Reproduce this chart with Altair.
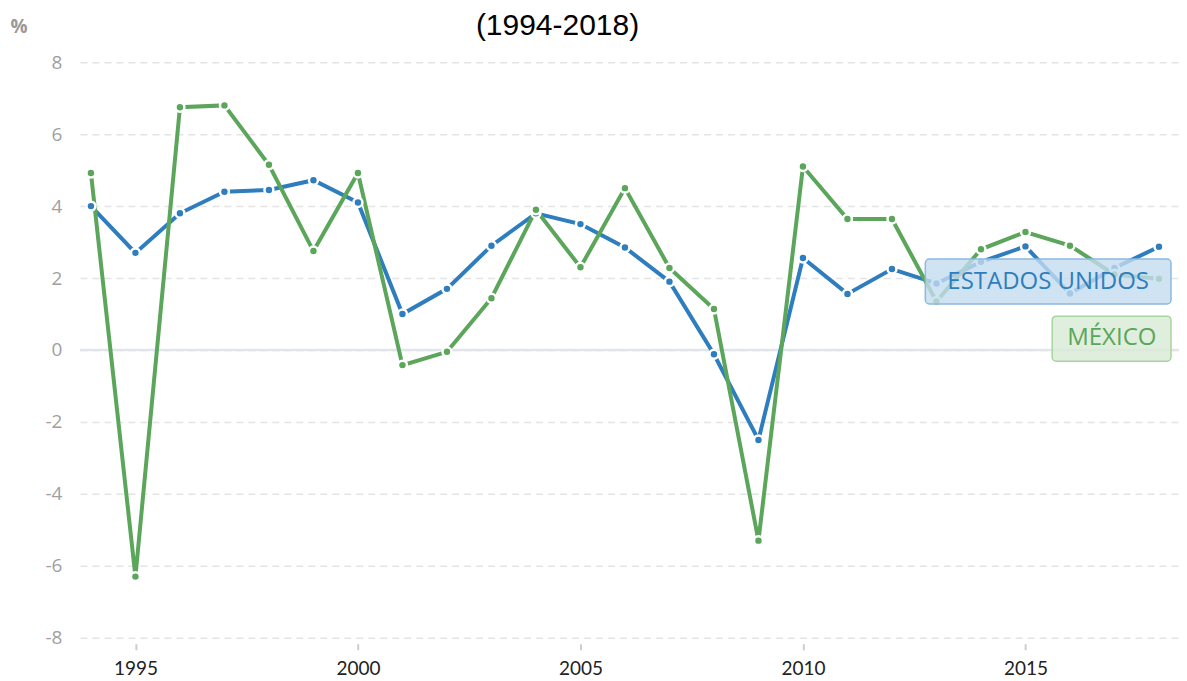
import altair as alt
import pandas as pd

# ---- data ----
years = list(range(1994, 2019))
usa = [4.0, 2.7, 3.8, 4.4, 4.45, 4.72, 4.1, 1.0, 1.7, 2.9, 3.8, 3.5, 2.85, 1.9, -0.12,
       -2.5, 2.56, 1.56, 2.25, 1.85, 2.45, 2.88, 1.57, 2.28, 2.87]
mex = [4.92, -6.3, 6.75, 6.8, 5.15, 2.75, 4.92, -0.42, -0.05, 1.44, 3.9, 2.3, 4.5, 2.28,
       1.14, -5.3, 5.1, 3.64, 3.64, 1.35, 2.8, 3.28, 2.9, 2.1, 1.98]
series_names = ["ESTADOS UNIDOS", "MÉXICO"]
series_colors = ["#2e7ebf", "#5ba65a"]
box_fill = ["#c4dcf0", "#d8ebd4"]
box_stroke = ["#8cb9df", "#a8d49f"]

# label boxes (data units)
box_x0 = [2012.75, 2015.60]
box_x1 = [2018.27, 2018.27]
box_y0 = [2.53, 0.94]
box_y1 = [1.28, -0.31]
label_x = [2015.51, 2016.94]
label_y = [1.90, 0.32]

y_ticks = [-8, -6, -4, -2, 0, 2, 4, 6, 8]
x_ticks = [1995, 2000, 2005, 2010, 2015]
zero = [0]

df = pd.DataFrame({
    "year": years * 2,
    "value": usa + mex,
    "country": [series_names[0]] * len(years) + [series_names[1]] * len(years),
})
boxes = pd.DataFrame({
    "country": series_names, "x0": box_x0, "x1": box_x1, "y0": box_y0, "y1": box_y1,
    "lx": label_x, "ly": label_y, "fill": box_fill, "stroke": box_stroke,
    "tcolor": series_colors,
})
zdf = pd.DataFrame({"z": zero})

xscale = alt.Scale(domain=[1993.753, 2018.45], nice=False, zero=False)
yscale = alt.Scale(domain=[-8, 8], nice=False)
color = alt.Color("country:N", scale=alt.Scale(domain=series_names, range=series_colors), legend=None)

xaxis = alt.Axis(values=x_ticks, format="d", title=None, grid=False, domain=False,
                 ticks=True, tickColor="#cccccc", tickSize=6, tickWidth=2, offset=6,
                 labelFont="Lato", labelFontSize=19, labelColor="#222222", labelPadding=10)
yaxis = alt.Axis(values=y_ticks, title="%", grid=True, gridDash=[7, 5], gridColor="#e4e4e4",
                 gridWidth=1.5, domain=False, ticks=False, labelFont="Open Sans",
                 labelExpr="toString(datum.value)",
                 labelFontSize=19, labelColor="#a0a0a0", labelPadding=18,
                 titleAngle=0, titleX=-61.5, titleY=-35.5, titleAlign="center",
                 titleBaseline="middle", titleFont="Open Sans", titleFontSize=19,
                 titleColor="#999999", titleFontWeight="bold")

zero_rule = alt.Chart(zdf).mark_rule(color="#e1e5ea", strokeWidth=2.5).encode(
    y=alt.Y("z:Q", scale=yscale, axis=yaxis)
)

lines = alt.Chart(df).mark_line(strokeWidth=4).encode(
    x=alt.X("year:Q", scale=xscale, axis=xaxis),
    y=alt.Y("value:Q", scale=yscale, axis=yaxis),
    color=color,
)
points = alt.Chart(df).mark_circle(size=80, opacity=1, stroke="white", strokeWidth=2.5).encode(
    x=alt.X("year:Q", scale=xscale, axis=xaxis),
    y=alt.Y("value:Q", scale=yscale, axis=yaxis),
    color=color,
)
rects = alt.Chart(boxes).mark_rect(cornerRadius=4, strokeWidth=1.5, fillOpacity=0.8).encode(
    x=alt.X("x0:Q", scale=xscale, axis=xaxis),
    x2="x1:Q",
    y=alt.Y("y0:Q", scale=yscale, axis=yaxis),
    y2="y1:Q",
    fill=alt.Fill("fill:N", scale=None),
    stroke=alt.Stroke("stroke:N", scale=None),
)
texts = alt.Chart(boxes).mark_text(font="Open Sans", fontSize=24, baseline="middle", align="center").encode(
    x=alt.X("lx:Q", scale=xscale, axis=xaxis),
    y=alt.Y("ly:Q", scale=yscale, axis=yaxis),
    text="country:N",
    color=alt.Color("tcolor:N", scale=None),
)

chart = alt.layer(zero_rule, lines, points, rects, texts).properties(
    width=1100,
    height=576,
    autosize=alt.AutoSizeParams(type="none"),
    padding={"left": 72, "top": 54, "right": 0, "bottom": 40},
    title=alt.Title("(1994-2018)", font="Liberation Sans", fontSize=30, fontWeight="normal",
                    color="#000000", anchor="middle", dx=-72, offset=-23),
).configure_view(stroke=None)

chart.save("out.html", embed_options={"renderer": "svg", "actions": False})
